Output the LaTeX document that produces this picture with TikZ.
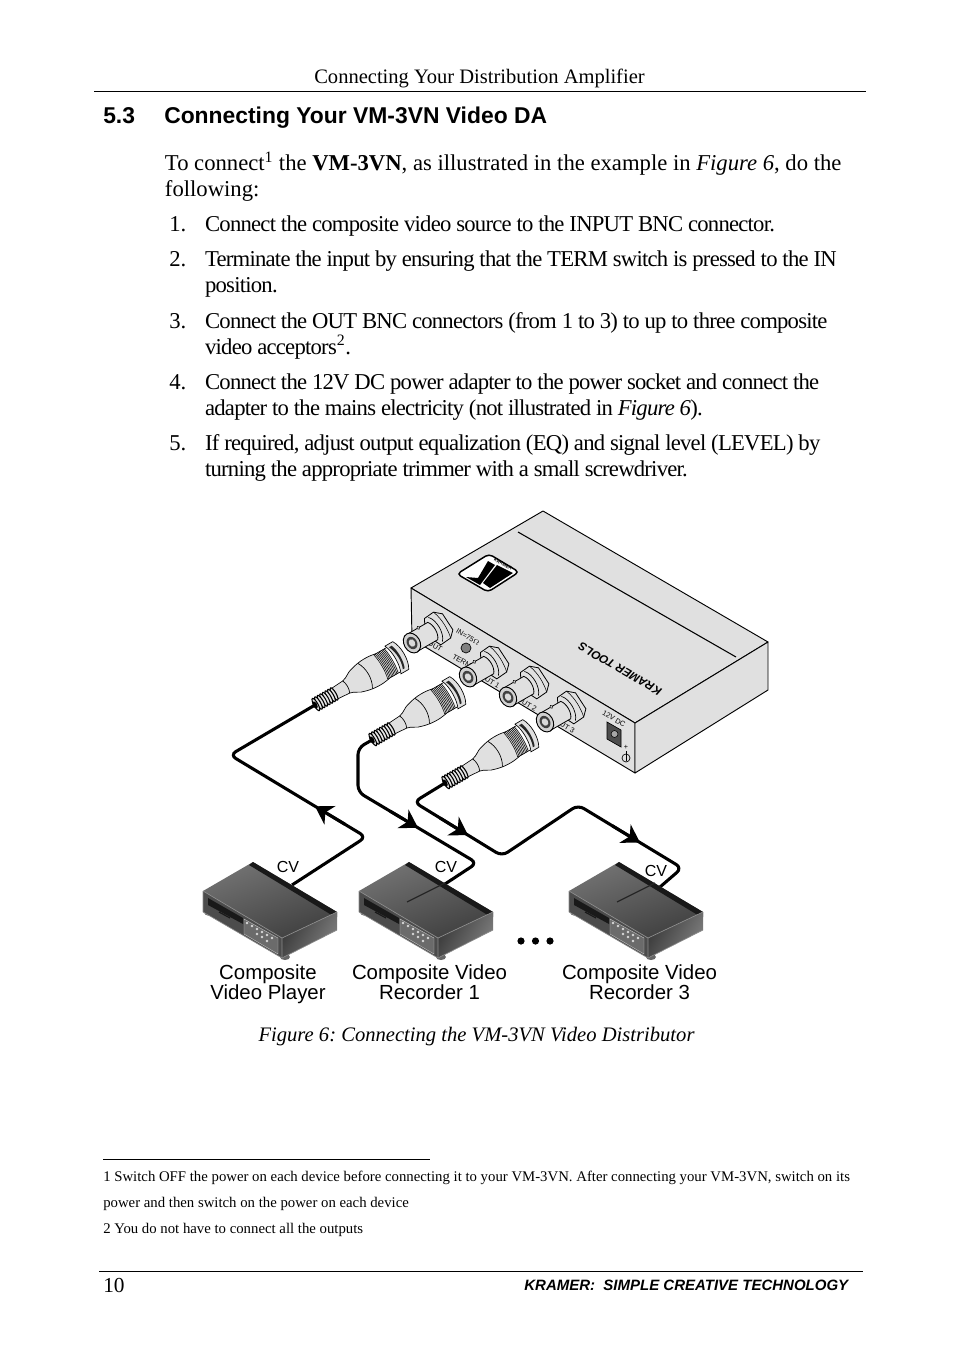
\documentclass[tikz,border=0pt]{standalone}
\usepackage{fontspec}
\setmainfont{Liberation Serif}
\setsansfont{Liberation Sans}
\usetikzlibrary{arrows.meta, positioning}

\newcommand{\pxfont}[1]{\fontsize{#1}{#1}\selectfont}
\frenchspacing

\tikzset{
	bodytext/.style={anchor=base west, inner sep=0pt, font=\pxfont{17}},
	itemtext/.style={anchor=base west, inner sep=0pt, font=\pxfont{17}\addfontfeature{LetterSpace=-3.35}},
	smalltext/.style={anchor=base west, inner sep=0pt, font=\pxfont{11.08}},
	devtext/.style={anchor=base, inner sep=0pt, font=\sffamily\pxfont{15.3}},
	cvtext/.style={inner sep=0pt, font=\sffamily\pxfont{12}},
	paneltext/.style={inner sep=0pt, rotate=-30, font=\sffamily\pxfont{5.4}},
	rule/.style={line width=0.75pt},
	cable/.style={line width=2.3pt, rounded corners=5pt},
	cablearrow/.style={line width=2.3pt, -{Stealth[length=13pt,width=16pt,inset=4pt]}},
	housing/.style={fill=black!12, draw=black, line width=0.7pt, line join=round},
	bncplug/.pic={
		\coordinate (-tip) at (0,0);
		% neck and sleeve
		\draw[fill=black!12, line width=0.5pt] (21,-6) -- (36,-7) .. controls (42,-8) and (44,-12) .. (50,-13)
			.. controls (60,-16) and (70,-16) .. (78,-14) -- (78,14) .. controls (70,16) and (60,16) .. (50,13)
			.. controls (44,12) and (42,8) .. (36,7) -- (21,6) -- cycle;
		\draw[line width=0.5pt] (36,-7) .. controls (38,-3) and (38,3) .. (36,7);
		\draw[line width=0.5pt] (58,-14.5) .. controls (63,-6) and (63,6) .. (58,14.5);
		% knurl
		\fill[black!12] (76,-14) rectangle (90,14);
		\foreach \k in {76,77.5,...,89}
			\draw[line width=0.4pt] (\k,-14) .. controls (\k+2,-5) and (\k+2,5) .. (\k,14);
		\draw[line width=0.5pt] (76,-14) -- (90,-14) (76,14) -- (90,14);
		% end cap
		\draw[fill=black!12, line width=0.5pt] (90,-16) -- (99,-16) .. controls (104,-8) and (104,8) .. (99,16) -- (90,16)
			.. controls (94,8) and (94,-8) .. (90,-16) -- cycle;
		\fill[black!85] (93,-13) -- (96,-13) .. controls (99,-6) and (99,6) .. (96,13) -- (94,13) .. controls (97,5) and (97,-4) .. (93,-13) -- cycle;
		% strain relief
		\foreach \k in {22,19,...,1}
			\draw[fill=black!10, line width=0.8pt] (\k,0) ellipse [x radius=2, y radius=7];
		\fill[black] (0,0) ellipse [x radius=2.2, y radius=4];
	},
	bncsocket/.pic={
		% nut
		\draw[fill=black!12, line width=0.6pt] (23,-15) -- (34,-16) -- (41,-10) -- (42,9) -- (36,15) -- (24,16) -- (20,8) -- (20,-9) -- cycle;
		\draw[line width=0.5pt] (27,-14) .. controls (33,-8) and (33,8) .. (27,14);
		\draw[line width=0.4pt] (34,-16) .. controls (38,-6) and (38,6) .. (36,15);
		% barrel
		\draw[fill=black!12, line width=0.6pt] (0,-10) -- (24,-10) .. controls (28,-5) and (28,5) .. (24,10) -- (0,10) -- cycle;
		\draw[fill=black!12, line width=0.4pt] (13,-10) circle (1.6);
		% face
		\draw[fill=black!18, line width=0.7pt] (0,0) ellipse [x radius=8, y radius=10.5];
		\fill[black!75] (0,0) ellipse [x radius=5, y radius=6.5];
		\fill[black!15] (0,0) ellipse [x radius=3, y radius=4];
	},
	vcr/.pic={
		% feet
		\fill[black!60] (-45,51) ellipse [x radius=3.5, y radius=2.5];
		\fill[black!60] (32,95) ellipse [x radius=5, y radius=3];
		% faces
		\shade[left color=black!55, right color=black!75, shading angle=20] (0,0) -- (84,50) -- (29,76) -- (-50,29) -- cycle;
		\fill[black!90] (0,0) -- (84,50) -- (84,55) -- (77,52) -- (-4,3) -- cycle;
		\fill[black!70] (-50,29) -- (29,76) -- (29,96) -- (-50,50) -- cycle;
		\shade[left color=black!78, right color=black!50, shading angle=60] (29,76) -- (84,50) -- (84,68) -- (29,96) -- cycle;
		\draw[black!45, line width=0.5pt] (-50,29) -- (29,76) -- (84,50) (29,76) -- (29,96);
		\draw[black!45, line width=0.5pt] (-50,29) -- (-50,50) -- (29,96) -- (84,68);
		% slot, drawer and button panel
		\fill[black!90] (-45,36) -- (-10,56) -- (-10,62) -- (-45,43) -- cycle;
		\draw[black!90, line width=0.9pt] (-34,50) -- (-23,56);
		\draw[fill=black!58, draw=black!25, line width=0.3pt] (-9,57) -- (25,76) -- (25,92) -- (-9,72) -- cycle;
		\foreach \a/\b in {-6/61,-1/64,4/67,9/70,14/73,19/76,4/72,9/75,14/79}
			\fill[black!15] (\a,\b) circle (1.4);
	},
	recline/.pic={
		\draw[black!85, line width=0.9pt] (36,21) -- (-2,40);
	}
}

\begin{document}
\begin{tikzpicture}[x=0.75pt, y=-0.75pt]
	\useasboundingbox (0,0) rectangle (954,1352);

	% page text above the figure
	\node[anchor=base, inner sep=0pt, font=\pxfont{15.4}] (header) at (479.5,84) {Connecting Your Distribution Amplifier};
	\draw[rule] (94,92) coordinate (ruletopL) -- (866,92) coordinate (ruletopR);
	\node[anchor=base west, inner sep=0pt, font=\sffamily\bfseries\pxfont{17.15}] (secnum) at (103,124) {5.3};
	\node[anchor=base west, inner sep=0pt, font=\sffamily\bfseries\pxfont{17.15}] (sectitle) at (164,124) {Connecting Your VM-3VN Video DA};
	\node[bodytext] (intro) at (164.7,171) {To connect\textsuperscript{1} the \textbf{VM-3VN}, as illustrated in the example in \textit{Figure 6}, do the};
	\node[bodytext] (introb) at (164.7,196) {following:};

	\foreach \n/\y in {1/231,2/266,3/328,4/389,5/450}
		\node[bodytext] (num\n) at (169,\y) {\n.};
	\node[itemtext] (itemA) at (204.8,231) {Connect the composite video source to the INPUT BNC connector.};
	\node[itemtext] (itemB) at (204.8,266) {Terminate the input by ensuring that the TERM switch is pressed to the IN};
	\node[itemtext] (itemBb) at (204.8,292) {position.};
	\node[itemtext] (itemC) at (204.8,328) {Connect the OUT BNC connectors (from 1 to 3) to up to three composite};
	\node[itemtext] (itemCb) at (204.8,354) {video acceptors\textsuperscript{2}.};
	\node[itemtext] (itemD) at (204.8,389) {Connect the 12V DC power adapter to the power socket and connect the};
	\node[itemtext] (itemDb) at (204.8,415) {adapter to the mains electricity (not illustrated in \textit{Figure 6}).};
	\node[itemtext] (itemE) at (204.8,450) {If required, adjust output equalization (EQ) and signal level (LEVEL) by};
	\node[itemtext] (itemEb) at (204.8,476) {turning the appropriate trimmer with a small screwdriver.};

	% distribution amplifier
	\draw[housing] (543,511) -- (768,642) -- (635,723) -- (411,588) -- cycle;
	\draw[housing] (411,588) -- (635,723) -- (635,773) -- (412,639) -- cycle;
	\draw[housing] (635,723) -- (768,642) -- (768,690) -- (635,773) -- cycle;
	\draw[line width=0.8pt] (518,532) coordinate (slitA) -- (736,657) coordinate (slitB);
	\draw[fill=white, line width=1.1pt, rounded corners=3pt] (457,574) -- (489,554) -- (519,572) -- (488,592) -- cycle;
	\fill (488,561) -- (495,565) -- (480,585) -- (466,577) -- (478,578) -- cycle;
	\fill (497,565) -- (513,573) -- (490,588) -- (483,583) -- cycle;
	\node[inner sep=0pt, rotate=-30, font=\sffamily\bfseries\pxfont{3.4}] (logotext) at (503,564) {KRAMER};
	\node[inner sep=0pt, rotate=150, font=\sffamily\bfseries\itshape\pxfont{8.7}] (brand) at (620,669) {KRAMER TOOLS};

	\node[paneltext] (inlabel) at (468,637) {IN=75$\Omega$};
	\node[paneltext] (termlabel) at (462,661) {TERM};
	\node[paneltext] (inputlabel) at (435,646) {OUT};
	\node[paneltext] (outA) at (490,681) {OUT 1};
	\node[paneltext] (outB) at (527,704) {OUT 2};
	\node[paneltext] (outC) at (565,726) {OUT 3};
	\node[paneltext] (dclabel) at (614,719) {12V DC};
	\draw[fill=black!50, line width=0.5pt] (466,648) circle (5);
	\draw[fill=black!70, line width=0.5pt] (607,722) -- (621,730) -- (621,747) -- (607,739) -- cycle;
	\draw[fill=black!35, line width=0.4pt] (614.5,734) circle (3.5);
	\node[paneltext, rotate=30] (pluslabel) at (626,747) {+};
	\draw[line width=0.5pt] (626,758) circle (4);
	\draw[line width=0.5pt] (626,751) -- (626,761);

	\pic[rotate=30] (input) at (412,643) {bncsocket};
	\pic[rotate=30] (socketA) at (468,677) {bncsocket};
	\pic[rotate=30] (socketB) at (508,697) {bncsocket};
	\pic[rotate=30] (socketC) at (545,722) {bncsocket};

	% cables with their plugs
	\pic[rotate=30] (plugA) at (315,705) {bncplug};
	\pic[rotate=30] (plugB) at (372,740) {bncplug};
	\pic[rotate=30] (plugC) at (445,783) {bncplug};

	\coordinate (playerport) at (292,885);
	\coordinate (recAport) at (445,884);
	\coordinate (recCport) at (660,887);
	\draw[cable] (plugA-tip) -- (230,755) -- (366,837) -- (playerport);
	\draw[cable] (plugB-tip) -- (358,748) -- (358,792) -- (477,863) -- (recAport);
	\draw[cable] (plugC-tip) -- (414,802) -- (502,856) -- (578,805) -- (682,868) -- (recCport);

	\coordinate (arrowAa) at (345,824.3);
	\coordinate (arrowAb) at (315,806.3);
	\coordinate (arrowBa) at (390,811.1);
	\coordinate (arrowBb) at (418,827.8);
	\coordinate (arrowCa) at (440,818);
	\coordinate (arrowCb) at (468,835.2);
	\coordinate (arrowDa) at (612,825.6);
	\coordinate (arrowDb) at (640,842.6);
	\foreach \a/\b in {arrowAa/arrowAb,arrowBa/arrowBb,arrowCa/arrowCb,arrowDa/arrowDb}
		\draw[cablearrow] (\a) -- (\b);

	% players and recorders
	\pic (player) at (253,862) {vcr};
	\pic (recA) at (409,862) {vcr};
	\pic (recC) at (619,862) {vcr};
	\pic (recAline) at (409,862) {recline};
	\pic (recCline) at (619,862) {recline};

	\node[cvtext] (cvA) at (288,867) {CV};
	\node[cvtext] (cvB) at (446,867) {CV};
	\node[cvtext] (cvC) at (656,871) {CV};

	\node[devtext] (devA) at (268,979) {Composite};
	\node[devtext] (devAb) at (268,999) {Video Player};
	\node[devtext] (devB) at (429.5,979) {Composite Video};
	\node[devtext] (devBb) at (429.5,999) {Recorder 1};
	\node[devtext] (devC) at (639.5,979) {Composite Video};
	\node[devtext] (devCb) at (639.5,999) {Recorder 3};
	\foreach \x in {521,535.5,550}
		\fill (\x,941) circle (3.6);

	\node[anchor=base, inner sep=0pt, font=\itshape\pxfont{15.45}] (caption) at (476.5,1041) {Figure 6: Connecting the VM-3VN Video Distributor};

	% footnotes and footer
	\draw[line width=0.6pt] (103,1159.7) coordinate (noteruleL) -- (430,1159.7) coordinate (noteruleR);
	\node[smalltext] (noteA) at (103,1181) {1 Switch OFF the power on each device before connecting it to your VM-3VN. After connecting your VM-3VN, switch on its};
	\node[smalltext] (noteAb) at (103,1207) {power and then switch on the power on each device};
	\node[smalltext] (noteB) at (103,1233) {2 You do not have to connect all the outputs};
	\draw[rule] (99,1271) coordinate (footruleL) -- (863,1271) coordinate (footruleR);
	\node[anchor=base west, inner sep=0pt, font=\pxfont{16}] (pagenum) at (103,1292) {10};
	\node[anchor=base east, inner sep=0pt, font=\sffamily\bfseries\itshape\pxfont{11.25}] (footer) at (848.5,1290) {KRAMER:\ \ SIMPLE CREATIVE TECHNOLOGY};
\end{tikzpicture}
\end{document}
